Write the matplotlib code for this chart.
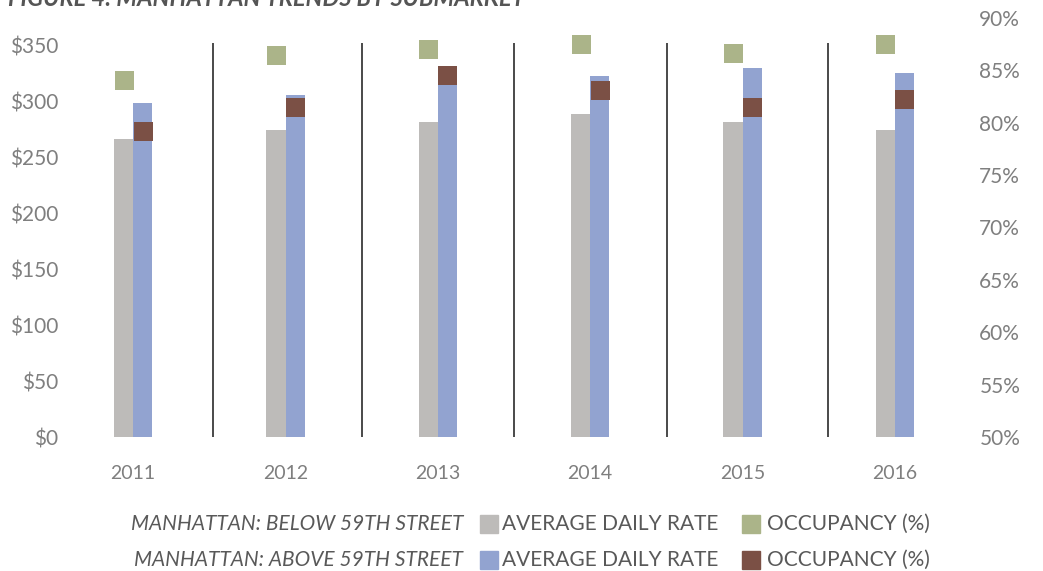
import matplotlib
matplotlib.use("Agg")
import matplotlib.pyplot as plt
import numpy as np

years = ["2011", "2012", "2013", "2014", "2015", "2016"]
adr_below = [267, 275, 282, 289, 282, 275]
adr_above = [299, 306, 316, 323, 330, 326]
occ_below = [84.1, 86.5, 87.0, 87.5, 86.7, 87.5]
occ_above = [79.2, 81.5, 84.6, 83.1, 81.5, 82.3]
separators = [0.525, 1.503, 2.5, 3.504, 4.56]

left_ticks = [0, 50, 100, 150, 200, 250, 300, 350]
left_labels = ["$0", "$50", "$100", "$150", "$200", "$250", "$300", "$350"]
right_ticks = [50, 55, 60, 65, 70, 75, 80, 85, 90]
right_labels = ["50%", "55%", "60%", "65%", "70%", "75%", "80%", "85%", "90%"]

c_gray = "#bdbbb9"
c_blue = "#92a3d0"
c_green = "#abb489"
c_brown = "#7b5045"
txt = "#7f7f7f"

plt.rcParams["font.family"] = ["Lato", "DejaVu Sans"]

W, H = 1043, 571
fig = plt.figure(figsize=(W / 100, H / 100), dpi=100)
ax = fig.add_axes([57 / W, 1 - 437 / H, (971 - 57) / W, (437 - 18) / H])
ax2 = ax.twinx()

x = np.arange(len(years))
bw = 0.125
ax.bar(x - bw / 2, adr_below, width=bw, color=c_gray, zorder=2)
ax.bar(x + bw / 2, adr_above, width=bw, color=c_blue, zorder=2)
ax.vlines(separators, 0, 353, color="#3a3a3a", lw=1.3, zorder=1)

ms = 19 * 72 / 100
ax2.plot(x - bw / 2, occ_below, "s", ms=ms, color=c_green, mew=0, zorder=3)
ax2.plot(x + bw / 2, occ_above, "s", ms=ms, color=c_brown, mew=0, zorder=3)

ax.set_xlim(-0.5, len(years) - 0.5)
ax.set_ylim(0, 375)
ax2.set_ylim(50, 90)

ax.set_yticks(left_ticks)
ax.set_yticklabels(left_labels)
ax2.set_yticks(right_ticks)
ax2.set_yticklabels(right_labels)
ax.set_xticks(x)
ax.set_xticklabels(years)

for a in (ax, ax2):
    for s in a.spines.values():
        s.set_visible(False)
ax.tick_params(axis="y", length=0, labelsize=15, labelcolor=txt, pad=-1)
ax2.tick_params(axis="y", length=0, labelsize=15, labelcolor=txt, pad=6)
ax.tick_params(axis="x", length=0, labelsize=14, labelcolor=txt, pad=20)
ax2.set_zorder(ax.get_zorder() + 1)
ax2.patch.set_visible(False)

fig.text(8 / W, 1 - 6 / H, "FIGURE 4: MANHATTAN TRENDS BY SUBMARKET", fontsize=17,
         fontweight="bold", style="italic", color="#555555", ha="left", va="baseline")

# Legend
rows = [(1 - 524 / H, "MANHATTAN: BELOW 59TH STREET", c_gray, c_green),
        (1 - 560 / H, "MANHATTAN: ABOVE 59TH STREET", c_blue, c_brown)]
lc = "#595959"
for yy, label, c1, c2 in rows:
    fig.text(463 / W, yy, label, fontsize=15, style="italic", color=lc, ha="right", va="center")
    fig.patches.append(plt.Rectangle((480 / W, yy - 9 / H), 18 / W, 18 / H,
                                     transform=fig.transFigure, color=c1, figure=fig))
    fig.text(502 / W, yy, "AVERAGE DAILY RATE", fontsize=15, color=lc, ha="left", va="center")
    fig.patches.append(plt.Rectangle((742 / W, yy - 9 / H), 18 / W, 18 / H,
                                     transform=fig.transFigure, color=c2, figure=fig))
    fig.text(767 / W, yy, "OCCUPANCY (%)", fontsize=15, color=lc, ha="left", va="center")

fig.savefig("out.png", dpi=100)
